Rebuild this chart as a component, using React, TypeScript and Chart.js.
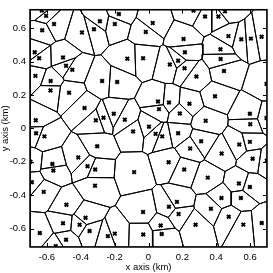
import React, { useEffect, useRef } from "react";
import { Chart, registerables } from "chart.js";
Chart.register(...registerables);

const siteX = [
  -0.63, -0.605, -0.628, -0.558, -0.393, -0.322, -0.287, -0.199, -0.175, -0.672, -0.646, -0.505, -0.668, -0.487,
  -0.45, -0.125, -0.578, -0.579, -0.469, -0.274, -0.185, -0.378, -0.666, -0.311, -0.266, -0.205, -0.14,
  0.266, 0.452, 0.334, 0.413, 0.025, -0.016, 0.207, 0.472, 0.548, 0.605, 0.668, 0.215, 0.425, -0.032, 0.175,
  0.426, 0.126, 0.213, 0.446, 0.283, 0.697, 0.393, 0.056, 0.121, 0.242, 0.062, 0.185, 0.599, 0.697, 0.338,
  0.601, 0.003,
  -0.664, -0.615, -0.091, -0.303, -0.415, -0.697, -0.568, -0.562, -0.36, -0.315, -0.085, -0.689, -0.619, -0.316,
  -0.485, -0.372, -0.505, -0.407, -0.348, -0.642, -0.487, -0.24, -0.199, -0.548,
  0.042, 0.081, 0.175, 0.311, 0.246, 0.536, 0.599, 0.432, 0.615, 0.699, 0.119, 0.211, 0.35, 0.534, 0.599,
  0.431, 0.546, 0.168, 0.121, 0.369, -0.032, 0.178, 0.474, 0.669, 0.56, 0.278, 0.072, 0.078, -0.031,
];
const siteY = [
  0.705, 0.673, 0.587, 0.624, 0.574, 0.593, 0.641, 0.624, 0.684, 0.455, 0.42, 0.424, 0.314, 0.374,
  0.351, 0.417, 0.283, 0.227, 0.213, 0.283, 0.277, 0.122, 0.048, 0.048, 0.064, 0.087, 0.052,
  0.705, 0.7, 0.669, 0.669, 0.63, 0.577, 0.535, 0.552, 0.533, 0.537, 0.548, 0.455, 0.473, 0.42, 0.405,
  0.415, 0.382, 0.36, 0.343, 0.31, 0.266, 0.192, 0.161, 0.155, 0.147, 0.115, 0.089, 0.087, 0.062, 0.045,
  0.025, 0.01,
  -0.029, -0.048, -0.019, -0.107, -0.174, -0.2, -0.213, -0.252, -0.227, -0.246, -0.262, -0.322, -0.38, -0.343,
  -0.457, -0.535, -0.568, -0.577, -0.614, -0.626, -0.667, -0.645, -0.63, -0.705,
  -0.033, -0.048, -0.029, -0.077, -0.12, -0.097, -0.081, -0.151, -0.182, -0.194, -0.203, -0.246, -0.295, -0.33, -0.351,
  -0.417, -0.417, -0.44, -0.469, -0.481, -0.5, -0.513, -0.529, -0.566, -0.576, -0.577, -0.581, -0.632, -0.635,
];
const xTicks = [-0.6, -0.4, -0.2, 0, 0.2, 0.4, 0.6];
const yTicks = [-0.6, -0.4, -0.2, 0, 0.2, 0.4, 0.6];
const xRange = [-0.7, 0.7];
const yRange = [-0.71, 0.71];
const xTitle = "x axis (km)";
const yTitle = "y axis (km)";

type P = { x: number; y: number };

function clip(poly: P[], nx: number, ny: number, c: number): P[] {
  // keep points where nx*x + ny*y <= c
  const out: P[] = [];
  for (let i = 0; i < poly.length; i++) {
    const a = poly[i];
    const b = poly[(i + 1) % poly.length];
    const da = nx * a.x + ny * a.y - c;
    const db = nx * b.x + ny * b.y - c;
    if (da <= 0) out.push(a);
    if ((da <= 0) !== (db <= 0)) {
      const t = da / (da - db);
      out.push({ x: a.x + t * (b.x - a.x), y: a.y + t * (b.y - a.y) });
    }
  }
  return out;
}

function voronoiCells(xs: number[], ys: number[]): P[][] {
  const cells: P[][] = [];
  for (let i = 0; i < xs.length; i++) {
    let poly: P[] = [
      { x: xRange[0], y: yRange[0] },
      { x: xRange[1], y: yRange[0] },
      { x: xRange[1], y: yRange[1] },
      { x: xRange[0], y: yRange[1] },
    ];
    for (let j = 0; j < xs.length; j++) {
      if (j === i || poly.length === 0) continue;
      const nx = xs[j] - xs[i];
      const ny = ys[j] - ys[i];
      if (nx === 0 && ny === 0) continue;
      const mx = (xs[i] + xs[j]) / 2;
      const my = (ys[i] + ys[j]) / 2;
      poly = clip(poly, nx, ny, nx * mx + ny * my);
    }
    if (poly.length) cells.push([...poly, poly[0]]);
  }
  return cells;
}

const framePlugin = {
  id: "frame",
  afterDatasetsDraw(chart: any) {
    const { ctx, chartArea: a, scales } = chart;
    ctx.save();
    ctx.strokeStyle = "#000";
    ctx.lineWidth = 1.5;
    ctx.strokeRect(a.left, a.top, a.right - a.left, a.bottom - a.top);
    ctx.lineWidth = 1;
    const tl = 4;
    ctx.beginPath();
    for (const v of xTicks) {
      const p = Math.round(scales.x.getPixelForValue(v)) + 0.5;
      ctx.moveTo(p, a.bottom);
      ctx.lineTo(p, a.bottom - tl);
      ctx.moveTo(p, a.top);
      ctx.lineTo(p, a.top + tl);
    }
    for (const v of yTicks) {
      const p = Math.round(scales.y.getPixelForValue(v)) + 0.5;
      ctx.moveTo(a.left, p);
      ctx.lineTo(a.left + tl, p);
      ctx.moveTo(a.right, p);
      ctx.lineTo(a.right - tl, p);
    }
    ctx.stroke();
    ctx.restore();
  },
};

const fmt = (v: number) => String(Number(v.toFixed(1)));
const font = { family: "'Liberation Sans', Arial, sans-serif", size: 9.5 };

export default function App() {
  const ref = useRef<HTMLCanvasElement>(null);
  useEffect(() => {
    document.body.style.margin = "0";
    const cells = voronoiCells(siteX, siteY);
    const datasets: any[] = cells.map((c) => ({
      data: c,
      showLine: true,
      borderColor: "#000",
      borderWidth: 1,
      pointRadius: 0,
      fill: false,
    }));
    datasets.push({
      data: siteX.map((x, i) => ({ x, y: siteY[i] })),
      showLine: false,
      pointStyle: "crossRot",
      pointRadius: 2.5,
      borderColor: "#000",
      borderWidth: 2,
    });
    const chart = new Chart(ref.current!, {
      type: "scatter",
      data: { datasets },
      options: {
        animation: false,
        responsive: false,
        devicePixelRatio: 1,
        layout: { padding: { top: 2, right: 5, left: 0, bottom: 0 } },
        plugins: { legend: { display: false }, tooltip: { enabled: false } },
        scales: {
          x: {
            type: "linear",
            min: xRange[0],
            max: xRange[1],
            afterBuildTicks: (s: any) => {
              s.ticks = xTicks.map((v) => ({ value: v }));
            },
            afterFit: (s: any) => {
              s.height = 26;
            },
            grid: { display: false, drawTicks: false },
            border: { display: false },
            ticks: { color: "#000", font, padding: 5, maxRotation: 0, callback: (v: any) => fmt(Number(v)) },
            title: { display: true, text: xTitle, color: "#000", font, padding: { top: 1, bottom: 0 } },
          },
          y: {
            type: "linear",
            min: yRange[0],
            max: yRange[1],
            afterBuildTicks: (s: any) => {
              s.ticks = yTicks.map((v) => ({ value: v }));
            },
            afterFit: (s: any) => {
              s.width = 30;
            },
            grid: { display: false, drawTicks: false },
            border: { display: false },
            ticks: { color: "#000", font, padding: 4, callback: (v: any) => fmt(Number(v)) },
            title: { display: true, text: yTitle, color: "#000", font, padding: { top: 0, bottom: 0 } },
          },
        },
      },
      plugins: [framePlugin],
    });
    return () => chart.destroy();
  }, []);
  return (
    <div style={{ width: 273, height: 273, background: "#fff" }}>
      <canvas ref={ref} width={273} height={273} />
    </div>
  );
}
